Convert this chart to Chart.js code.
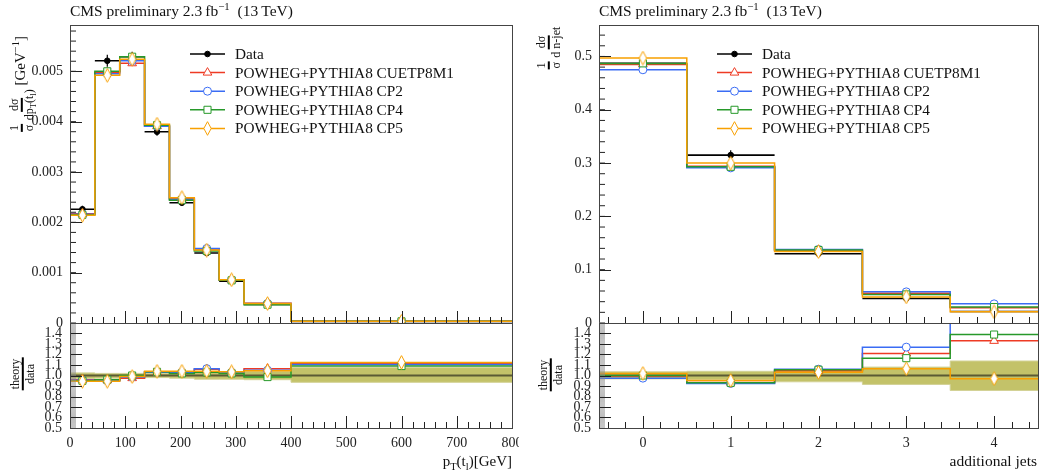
<!DOCTYPE html>
<html>
<head>
<meta charset="utf-8">
<script src="https://cdn.jsdelivr.net/npm/chart.js@4.4.1/dist/chart.umd.min.js"></script>
<style>
  body { margin: 0; background: #fff; }
  #fig { position: relative; width: 1047px; height: 476px; overflow: hidden; font-family: "Liberation Serif", "DejaVu Serif", serif; color: #111; }
  .panel { position: absolute; top: 0; height: 476px; overflow: hidden; }
  .panel canvas { position: absolute; left: 0; }
  .lbl { position: absolute; white-space: nowrap; font-size: 15px; line-height: 1; }
  .rot { transform: translate(-50%, -50%) rotate(-90deg); }
  .frac { display: inline-flex; flex-direction: column; align-items: center; vertical-align: middle; font-size: 12px; line-height: 1.1; }
  .frac span:first-child { border-bottom: 2.5px solid #000; padding: 0 1px; }
  sub, sup { font-size: 70%; line-height: 0; }
</style>
</head>
<body>
<div id="fig">
  <div class="panel" style="left:0;width:519px">
    <canvas id="ptMain" width="519" height="330" style="top:0"></canvas>
    <canvas id="ptRatio" width="545" height="176" style="top:300px"></canvas>
  </div>
  <div class="panel" style="left:520px;width:527px">
    <canvas id="njMain" width="527" height="330" style="top:0"></canvas>
    <canvas id="njRatio" width="527" height="176" style="top:300px"></canvas>
  </div>

  <div class="lbl" style="left:70px;top:3px;font-size:15.5px">CMS preliminary 2.3&#8201;fb<sup>&minus;1</sup>&nbsp; (13&#8201;TeV)</div>
  <div class="lbl" style="left:599px;top:3px;font-size:15.5px">CMS preliminary 2.3&#8201;fb<sup>&minus;1</sup>&nbsp; (13&#8201;TeV)</div>

  <div class="lbl rot" style="left:22px;top:84px">
    <span class="frac"><span>1</span><span>&sigma;</span></span>
    <span class="frac"><span>d&sigma;</span><span>dp<sub>T</sub>(t<sub>l</sub>)</span></span>
    [GeV<sup>&minus;1</sup>]
  </div>
  <div class="lbl rot" style="left:23px;top:374px">
    <span class="frac" style="font-size:12px"><span>theory</span><span>data</span></span>
  </div>
  <div class="lbl rot" style="left:549px;top:48px">
    <span class="frac"><span>1</span><span>&sigma;</span></span>
    <span class="frac"><span>d&sigma;</span><span>d n-jet</span></span>
  </div>
  <div class="lbl rot" style="left:551px;top:375px">
    <span class="frac" style="font-size:12px"><span>theory</span><span>data</span></span>
  </div>

  <div class="lbl" style="right:535px;top:454px">p<sub>T</sub>(t<sub>l</sub>)[GeV]</div>
  <div class="lbl" style="right:10px;top:453px;font-size:15.5px">additional jets</div>
</div>

<script>
// top-lepton pT, normalised
const ptEdges = [0, 45, 90, 135, 180, 225, 270, 315, 400, 800];
const ptData = [0.00226, 0.00521, 0.00529, 0.00380, 0.00239, 0.00139, 0.00083, 0.00037, 0.000030];
const ptDataErr = [0.00007, 0.00012, 0.00010, 0.00008, 0.00006, 0.00004, 0.00003, 0.00002, 0.000003];
const ptCUETP8M1 = [0.00217, 0.00498, 0.00516, 0.00391, 0.00247, 0.00147, 0.000859, 0.000394, 0.0000335];
const ptCP2 = [0.00216, 0.00495, 0.00521, 0.00391, 0.00246, 0.00148, 0.000855, 0.000389, 0.0000332];
const ptCP4 = [0.00215, 0.00500, 0.00529, 0.00393, 0.00244, 0.00143, 0.000847, 0.000364, 0.0000327];
const ptCP5 = [0.00214, 0.00492, 0.00524, 0.00395, 0.00249, 0.00145, 0.000859, 0.000387, 0.0000338];
const ptRatioCUETP8M1 = [0.96, 0.955, 0.975, 1.03, 1.035, 1.06, 1.035, 1.065, 1.115];
const ptRatioCP2 = [0.955, 0.95, 0.985, 1.03, 1.03, 1.065, 1.03, 1.05, 1.105];
const ptRatioCP4 = [0.95, 0.96, 1.0, 1.035, 1.02, 1.03, 1.02, 0.985, 1.09];
const ptRatioCP5 = [0.945, 0.945, 0.99, 1.04, 1.04, 1.04, 1.035, 1.045, 1.125];
const ptBandLo = [0.97, 0.975, 0.98, 0.98, 0.975, 0.965, 0.965, 0.96, 0.935];
const ptBandHi = [1.025, 1.02, 1.02, 1.02, 1.025, 1.035, 1.035, 1.04, 1.075];

// additional jets
const njEdges = [-0.5, 0.5, 1.5, 2.5, 3.5, 4.5];
const njData = [0.487, 0.315, 0.130, 0.046, 0.0215];
const njDataErr = [0.012, 0.009, 0.006, 0.003, 0.002];
const njCUETP8M1 = [0.485, 0.294, 0.136, 0.0557, 0.0286];
const njCP2 = [0.475, 0.291, 0.138, 0.0584, 0.0359];
const njCP4 = [0.487, 0.293, 0.137, 0.0536, 0.0299];
const njCP5 = [0.497, 0.300, 0.134, 0.049, 0.0209];
const njRatioCUETP8M1 = [0.996, 0.933, 1.045, 1.21, 1.33];
const njRatioCP2 = [0.975, 0.924, 1.06, 1.27, 1.67];
const njRatioCP4 = [1.0, 0.93, 1.055, 1.165, 1.39];
const njRatioCP5 = [1.02, 0.952, 1.03, 1.065, 0.97];
const njBandLo = [0.968, 0.96, 0.94, 0.915, 0.857];
const njBandHi = [1.035, 1.04, 1.055, 1.08, 1.138];

// tick labels
const ptMainTicks = [0, 0.001, 0.002, 0.003, 0.004, 0.005];
const ptXTicks = [0, 100, 200, 300, 400, 500, 600, 700, 800];
const njMainTicks = [0, 0.1, 0.2, 0.3, 0.4, 0.5];
const njXTicks = [0, 1, 2, 3, 4];
const ratioTicks = [0.5, 0.6, 0.7, 0.8, 0.9, 1.0, 1.1, 1.2, 1.3, 1.4];

Chart.defaults.font.family = '"Liberation Serif", "DejaVu Serif", serif';
Chart.defaults.font.size = 14;
Chart.defaults.color = '#222';

function tallDiamond(color) {
  const c = document.createElement('canvas');
  c.width = 9; c.height = 15;
  const g = c.getContext('2d');
  g.beginPath();
  g.moveTo(4.5, 0.7); g.lineTo(8.2, 7.5); g.lineTo(4.5, 14.3); g.lineTo(0.8, 7.5); g.closePath();
  g.fillStyle = '#fff'; g.fill();
  g.strokeStyle = color; g.lineWidth = 1; g.stroke();
  return c;
}

const models = [
  { label: 'POWHEG+PYTHIA8 CUETP8M1', color: '#ee3b24', style: 'triangle', radius: 5 },
  { label: 'POWHEG+PYTHIA8 CP2', color: '#3a6cf4', style: 'circle', radius: 4 },
  { label: 'POWHEG+PYTHIA8 CP4', color: '#27992a', style: 'rect', radius: 5 },
  { label: 'POWHEG+PYTHIA8 CP5', color: '#f8a000', style: tallDiamond('#f8a000'), radius: 5 }
];

const centers = edges => edges.slice(0, -1).map((e, i) => (e + edges[i + 1]) / 2);

// histogram outline: one point per lower edge plus the last upper edge
function stepLine(edges, vals) {
  const pts = vals.map((v, i) => ({ x: edges[i], y: v }));
  pts.push({ x: edges[edges.length - 1], y: vals[vals.length - 1] });
  return pts;
}

function binSegments(edges, vals) {
  const pts = [];
  vals.forEach((v, i) => pts.push({ x: edges[i], y: v }, { x: edges[i + 1], y: v }, { x: edges[i + 1], y: null }));
  return pts;
}

function errSegments(edges, vals, errs) {
  const pts = [];
  centers(edges).forEach((c, i) => pts.push({ x: c, y: vals[i] - errs[i] }, { x: c, y: vals[i] + errs[i] }, { x: c, y: null }));
  return pts;
}

function modelSets(edges, series) {
  const sets = [];
  const c = centers(edges);
  series.forEach((vals, i) => {
    const m = models[i];
    sets.push({ data: stepLine(edges, vals), stepped: 'before', borderColor: m.color, borderWidth: 1.5, pointRadius: 0, fill: false, order: 10 - i });
    sets.push({ data: c.map((x, k) => ({ x, y: vals[k] })), showLine: false, pointStyle: m.style, pointRadius: m.radius,
      pointBorderColor: m.color, pointBackgroundColor: '#fff', pointBorderWidth: 1, order: 5 - i });
  });
  return sets;
}

function mainSets(edges, data, errs, series) {
  const c = centers(edges);
  return [
    { data: binSegments(edges, data), borderColor: '#000', borderWidth: 1.6, pointRadius: 0, spanGaps: false, order: 20 },
    { data: errSegments(edges, data, errs), borderColor: '#000', borderWidth: 1.2, pointRadius: 0, spanGaps: false, order: 20 },
    { data: c.map((x, k) => ({ x, y: data[k] })), showLine: false, pointStyle: 'circle', pointRadius: 2.8,
      pointBackgroundColor: '#000', pointBorderColor: '#000', order: 6 }
  ].concat(modelSets(edges, series));
}

function ratioSets(edges, data, lo, hi, series) {
  return [
    { data: stepLine(edges, hi), stepped: 'before', borderColor: '#d3d296', borderWidth: 1, pointRadius: 0, fill: false, order: 39 },
    { data: stepLine(edges, lo), stepped: 'before', borderColor: '#d3d296', borderWidth: 1, pointRadius: 0, fill: '-1', backgroundColor: '#c3c269', order: 40 },
    { data: stepLine(edges, data.map(() => 1)), stepped: 'before', borderColor: '#5b5a34', borderWidth: 2, pointRadius: 0, fill: false, order: 30 }
  ].concat(modelSets(edges, series));
}

// inward ticks (major + minor) on left and bottom, plus frame
const hepAxes = {
  id: 'hepAxes',
  afterDatasetsDraw(chart, args, o) {
    const { ctx, chartArea: a } = chart;
    const xs = chart.scales.x, ys = chart.scales.y;
    const marks = (s, step) => {
      const out = [];
      for (let n = Math.ceil(s.min / step - 1e-6); n <= Math.floor(s.max / step + 1e-6); n++) out.push(n * step);
      return out;
    };
    const seg = (x1, y1, x2, y2) => { ctx.beginPath(); ctx.moveTo(x1, y1); ctx.lineTo(x2, y2); ctx.stroke(); };
    ctx.save();
    ctx.lineWidth = o.yMinorWidth || 1;
    ctx.strokeStyle = o.yMinorColor || '#222';
    marks(ys, o.yMinor).forEach(v => { const p = ys.getPixelForValue(v); seg(a.left, p, a.left + 6, p); });
    ctx.lineWidth = 1;
    ctx.strokeStyle = '#222';
    marks(ys, o.yMajor).forEach(v => { const p = Math.round(ys.getPixelForValue(v)) + 0.5; seg(a.left, p, a.left + 12, p); });
    marks(xs, o.xMinor).forEach(v => { const p = Math.round(xs.getPixelForValue(v)) + 0.5; seg(p, a.bottom, p, a.bottom - 6); });
    marks(xs, o.xMajor).forEach(v => { const p = Math.round(xs.getPixelForValue(v)) + 0.5; seg(p, a.bottom, p, a.bottom - 12); });
    ctx.strokeStyle = '#444';
    ctx.strokeRect(Math.round(a.left) + 0.5, Math.round(a.top) + 0.5, Math.round(a.width), Math.round(a.height));
    ctx.restore();
  }
};

const boxLegend = {
  id: 'boxLegend',
  afterDraw(chart, args, o) {
    if (!o.x0) return;
    const ctx = chart.ctx;
    const items = [{ label: 'Data', color: '#000', style: 'circle', radius: 2.8, fill: '#000' }]
      .concat(models.map(m => Object.assign({ fill: '#fff' }, m)));
    ctx.save();
    ctx.font = '15.3px "Liberation Serif", "DejaVu Serif", serif';
    ctx.textBaseline = 'middle';
    items.forEach((it, i) => {
      const y = o.y + i * o.dy, xm = (o.x0 + o.x1) / 2;
      ctx.strokeStyle = it.color; ctx.lineWidth = 1.5;
      ctx.beginPath(); ctx.moveTo(o.x0, y); ctx.lineTo(o.x1, y); ctx.stroke();
      ctx.lineWidth = 1; ctx.fillStyle = it.fill;
      if (typeof it.style !== 'string') ctx.drawImage(it.style, xm - it.style.width / 2, y - it.style.height / 2);
      else Chart.helpers.drawPoint(ctx, { pointStyle: it.style, radius: it.radius, borderWidth: 1, rotation: 0 }, xm, y);
      ctx.fillStyle = '#111';
      ctx.fillText(it.label, o.tx, y + 1);
    });
    ctx.restore();
  }
};

function makeChart(id, datasets, cfg) {
  const hidden = { display: false, drawTicks: false };
  return new Chart(document.getElementById(id), {
    type: 'line',
    data: { datasets },
    plugins: [hepAxes, boxLegend],
    options: {
      responsive: false, animation: false, events: [],
      layout: { padding: cfg.padding },
      plugins: { legend: { display: false }, tooltip: { enabled: false }, hepAxes: cfg.ticks, boxLegend: cfg.legend || {} },
      scales: {
        x: {
          type: 'linear', min: cfg.x[0], max: cfg.x[1], grid: hidden, border: { display: false },
          ticks: { display: !!cfg.xTicks, padding: 7, autoSkip: false, maxRotation: 0, callback: v => String(v) },
          afterBuildTicks: s => { if (cfg.xTicks) s.ticks = cfg.xTicks.map(v => ({ value: v })); },
          afterFit: s => { s.height = cfg.xHeight; s.paddingLeft = 0; s.paddingRight = 0; }
        },
        y: {
          type: 'linear', min: cfg.y[0], max: cfg.y[1], grid: hidden, border: { display: false },
          ticks: { padding: cfg.yPad, autoSkip: false, callback: cfg.fmt },
          afterBuildTicks: s => { s.ticks = cfg.yTicks.map(v => ({ value: v })); },
          afterFit: s => { s.width = cfg.yWidth; s.paddingTop = 0; s.paddingBottom = 0; }
        }
      }
    }
  });
}

const legendL = { x0: 190, x1: 225, tx: 235, y: 54, dy: 18.6 };
const legendR = { x0: 197, x1: 232, tx: 242, y: 54, dy: 18.6 };
const ratioFmt = v => v.toFixed(1);
const ratioMinor = { yMinor: 0.01, yMinorColor: '#8c8c8c', yMinorWidth: 0.6 };

makeChart('ptMain', mainSets(ptEdges, ptData, ptDataErr, [ptCUETP8M1, ptCP2, ptCP4, ptCP5]), {
  padding: { left: 0, top: 25, right: 7, bottom: 7 }, x: [0, 800], y: [0, 0.00592], xHeight: 0,
  yWidth: 70, yPad: 7, yTicks: ptMainTicks, fmt: v => v === 0 ? '0' : v.toFixed(3),
  ticks: { xMajor: 100, xMinor: 20, yMajor: 0.001, yMinor: 0.0002 }, legend: legendL
});
makeChart('ptRatio', ratioSets(ptEdges, ptData, ptBandLo, ptBandHi, [ptRatioCUETP8M1, ptRatioCP2, ptRatioCP4, ptRatioCP5]), {
  padding: { left: 0, top: 23, right: 33, bottom: 0 }, x: [0, 800], y: [0.5, 1.5], xHeight: 48, xTicks: ptXTicks,
  yWidth: 70, yPad: 8, yTicks: ratioTicks, fmt: ratioFmt,
  ticks: Object.assign({ xMajor: 100, xMinor: 20, yMajor: 0.1 }, ratioMinor)
});
makeChart('njMain', mainSets(njEdges, njData, njDataErr, [njCUETP8M1, njCP2, njCP4, njCP5]), {
  padding: { left: 0, top: 25, right: 9, bottom: 7 }, x: [-0.5, 4.5], y: [0, 0.559], xHeight: 0,
  yWidth: 79, yPad: 7, yTicks: njMainTicks, fmt: v => v === 0 ? '0' : v.toFixed(1),
  ticks: { xMajor: 1, xMinor: 0.2, yMajor: 0.1, yMinor: 0.02 }, legend: legendR
});
makeChart('njRatio', ratioSets(njEdges, njData, njBandLo, njBandHi, [njRatioCUETP8M1, njRatioCP2, njRatioCP4, njRatioCP5]), {
  padding: { left: 0, top: 23, right: 9, bottom: 0 }, x: [-0.5, 4.5], y: [0.5, 1.5], xHeight: 48, xTicks: njXTicks,
  yWidth: 79, yPad: 8, yTicks: ratioTicks, fmt: ratioFmt,
  ticks: Object.assign({ xMajor: 1, xMinor: 0.2, yMajor: 0.1 }, ratioMinor)
});
</script>
</body>
</html>
